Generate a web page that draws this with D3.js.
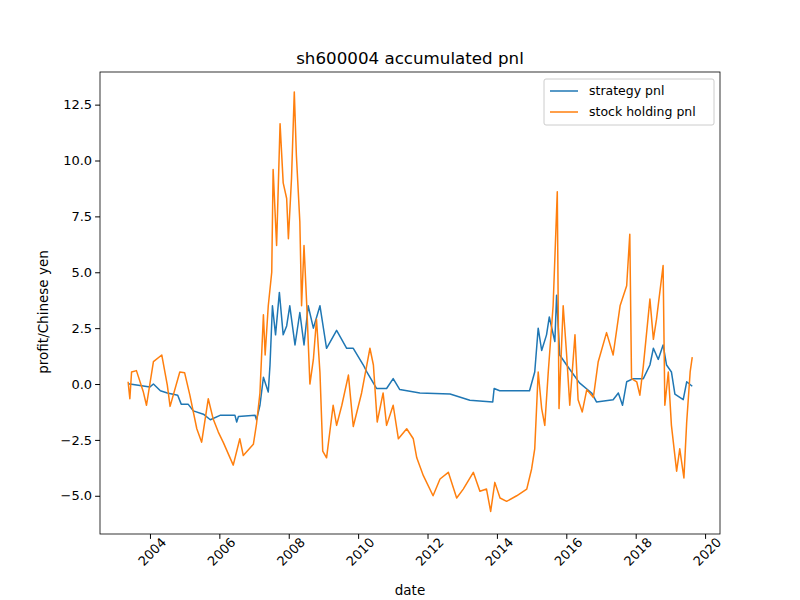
<!DOCTYPE html>
<html>
<head>
<meta charset="utf-8">
<script src="https://d3js.org/d3.v7.min.js"></script>
<style>
  body { margin: 0; background: #fff; }
  text { font-family: "DejaVu Sans", sans-serif; }
</style>
</head>
<body>
<div class="chart"></div>
<script>
// [year, value]
const strategyPnl = [
  [2003.37,0.0],[2003.42,0.0],[2004.0,-0.13],[2004.1,0.0],[2004.3,-0.3],[2004.5,-0.4],[2004.8,-0.5],
  [2004.9,-0.9],[2005.1,-0.9],[2005.25,-1.2],[2005.54,-1.35],[2005.74,-1.6],[2006.02,-1.4],[2006.45,-1.4],
  [2006.5,-1.7],[2006.55,-1.45],[2007.03,-1.4],[2007.07,-1.6],[2007.17,-0.95],[2007.27,0.3],[2007.41,-0.36],
  [2007.46,0.85],[2007.53,3.5],[2007.62,2.2],[2007.73,4.1],[2007.84,2.2],[2007.94,2.6],[2008.03,3.5],
  [2008.18,1.75],[2008.32,3.2],[2008.44,1.75],[2008.56,3.5],[2008.71,2.5],[2008.9,3.5],[2009.09,1.6],
  [2009.38,2.4],[2009.67,1.6],[2009.86,1.6],[2010.15,0.85],[2010.25,0.54],[2010.53,-0.2],[2010.82,-0.2],
  [2011.01,0.24],[2011.2,-0.25],[2011.78,-0.4],[2012.65,-0.45],[2013.22,-0.73],[2013.88,-0.8],[2013.92,-0.2],
  [2014.08,-0.3],[2014.94,-0.3],[2015.09,0.54],[2015.19,2.5],[2015.29,1.5],[2015.43,2.2],[2015.51,3.0],
  [2015.67,1.9],[2015.72,3.97],[2015.81,1.3],[2016.01,0.85],[2016.38,0.05],[2016.73,-0.4],[2016.87,-0.8],
  [2017.35,-0.7],[2017.5,-0.4],[2017.62,-0.95],[2017.74,0.1],[2017.93,0.24],[2018.22,0.24],[2018.41,0.85],
  [2018.51,1.6],[2018.65,1.1],[2018.79,1.75],[2018.89,0.85],[2019.03,0.54],[2019.13,-0.45],[2019.37,-0.7],
  [2019.47,0.1],[2019.63,-0.1]
];
const stockPnl = [
  [2003.37,0.1],[2003.42,-0.66],[2003.47,0.54],[2003.61,0.6],[2003.81,-0.36],[2003.9,-0.95],[2004.1,1.0],
  [2004.34,1.3],[2004.5,-0.05],[2004.58,-1.0],[2004.86,0.54],[2005.0,0.5],[2005.15,-0.5],[2005.35,-2.0],
  [2005.49,-2.6],[2005.68,-0.66],[2005.82,-1.55],[2005.97,-2.15],[2006.11,-2.6],[2006.4,-3.63],[2006.59,-2.45],
  [2006.69,-3.2],[2006.98,-2.7],[2007.07,-1.8],[2007.17,-0.4],[2007.27,3.1],[2007.32,1.3],[2007.41,3.5],
  [2007.51,5.0],[2007.55,9.6],[2007.65,6.2],[2007.75,11.65],[2007.84,9.0],[2007.94,8.3],[2007.99,6.5],
  [2008.08,9.2],[2008.16,13.07],[2008.22,10.25],[2008.32,7.25],[2008.37,3.5],[2008.44,6.2],[2008.52,3.5],
  [2008.61,0.0],[2008.71,1.1],[2008.8,2.9],[2008.9,0.5],[2008.98,-3.0],[2009.09,-3.3],[2009.28,-0.95],
  [2009.38,-1.85],[2009.53,-0.95],[2009.72,0.4],[2009.86,-1.9],[2010.1,-0.4],[2010.25,0.85],[2010.34,1.6],
  [2010.44,0.85],[2010.55,-1.7],[2010.72,-0.4],[2010.82,-1.85],[2011.01,-0.95],[2011.16,-2.45],[2011.4,-2.0],
  [2011.59,-2.45],[2011.69,-3.3],[2011.88,-4.1],[2012.16,-5.0],[2012.36,-4.25],[2012.6,-3.95],[2012.84,-5.1],
  [2013.03,-4.7],[2013.32,-3.95],[2013.51,-4.8],[2013.7,-4.7],[2013.82,-5.7],[2013.94,-4.4],[2014.09,-5.1],
  [2014.28,-5.25],[2014.57,-5.0],[2014.86,-4.7],[2015.0,-3.8],[2015.09,-2.9],[2015.19,0.54],[2015.29,-1.1],
  [2015.38,-1.85],[2015.48,0.54],[2015.62,3.5],[2015.74,8.6],[2015.79,-1.1],[2015.91,3.5],[2016.01,1.3],
  [2016.1,-0.95],[2016.25,2.2],[2016.34,-0.7],[2016.46,-1.25],[2016.59,-0.25],[2016.78,-0.6],[2016.92,1.0],
  [2017.16,2.3],[2017.35,1.3],[2017.55,3.5],[2017.74,4.4],[2017.83,6.7],[2017.88,0.24],[2018.03,0.1],
  [2018.12,-0.5],[2018.22,0.8],[2018.41,3.8],[2018.51,2.0],[2018.6,2.9],[2018.79,5.3],[2018.84,-0.95],
  [2018.94,0.54],[2019.03,-1.85],[2019.18,-3.9],[2019.27,-2.9],[2019.39,-4.2],[2019.47,-1.7],[2019.57,0.54],
  [2019.63,1.2]
];
const xTicks = [2004,2006,2008,2010,2012,2014,2016,2018,2020];
const yTicks = [-5.0,-2.5,0.0,2.5,5.0,7.5,10.0,12.5];
const seriesNames = ["strategy pnl","stock holding pnl"];
const colors = ["#1f77b4","#ff7f0e"];

const width = 800, height = 600;
const margin = {left: 100, right: 80, top: 72, bottom: 66};

const svg = d3.select(".chart").append("svg")
  .attr("width", width).attr("height", height);

const x = d3.scaleLinear().domain([2002.56, 2020.43]).range([margin.left, width - margin.right]);
const y = d3.scaleLinear().domain([-6.71, 13.96]).range([height - margin.bottom, margin.top]);

const line = d3.line().x(d => x(d[0])).y(d => y(d[1]));

[strategyPnl, stockPnl].forEach((s, i) => {
  svg.append("path").datum(s)
    .attr("d", line)
    .attr("fill", "none")
    .attr("stroke", colors[i])
    .attr("stroke-width", 1.5)
    .attr("stroke-linejoin", "round");
});

// axes
const xAxis = svg.append("g")
  .attr("transform", `translate(0,${height - margin.bottom})`)
  .call(d3.axisBottom(x).tickValues(xTicks).tickFormat(d3.format("d")).tickSizeOuter(0).tickSize(4.9));
xAxis.selectAll("text")
  .attr("font-size", 13)
  .attr("text-anchor", "end")
  .attr("dx", "0.4em").attr("dy", "0.8em")
  .attr("transform", "rotate(-45)");

const yAxis = svg.append("g")
  .attr("transform", `translate(${margin.left},0)`)
  .call(d3.axisLeft(y).tickValues(yTicks).tickFormat(d3.format(".1f")).tickSizeOuter(0).tickSize(4.9));
yAxis.selectAll("text").attr("font-size", 13);
svg.selectAll(".domain").remove();

// frame
svg.append("rect")
  .attr("x", margin.left).attr("y", margin.top)
  .attr("width", width - margin.left - margin.right)
  .attr("height", height - margin.top - margin.bottom)
  .attr("fill", "none").attr("stroke", "#000").attr("stroke-width", 0.8);

svg.append("text").attr("x", 410).attr("y", 64)
  .attr("text-anchor", "middle").attr("font-size", 16.7).text("sh600004 accumulated pnl");
svg.append("text").attr("x", 410).attr("y", 595)
  .attr("text-anchor", "middle").attr("font-size", 13.5).text("date");
svg.append("text").attr("transform", "translate(48,312) rotate(-90)")
  .attr("text-anchor", "middle").attr("font-size", 13.5).text("profit/Chinese yen");

// legend
const lg = svg.append("g").attr("transform", "translate(544,79)");
lg.append("rect").attr("width", 170).attr("height", 46).attr("rx", 2)
  .attr("fill", "#fff").attr("fill-opacity", 0.8).attr("stroke", "#ccc");
seriesNames.forEach((n, i) => {
  lg.append("line").attr("x1", 6).attr("x2", 34).attr("y1", 12 + i * 21).attr("y2", 12 + i * 21)
    .attr("stroke", colors[i]).attr("stroke-width", 1.5);
  lg.append("text").attr("x", 45).attr("y", 16 + i * 21).attr("font-size", 12.5).text(n);
});
</script>
</body>
</html>
